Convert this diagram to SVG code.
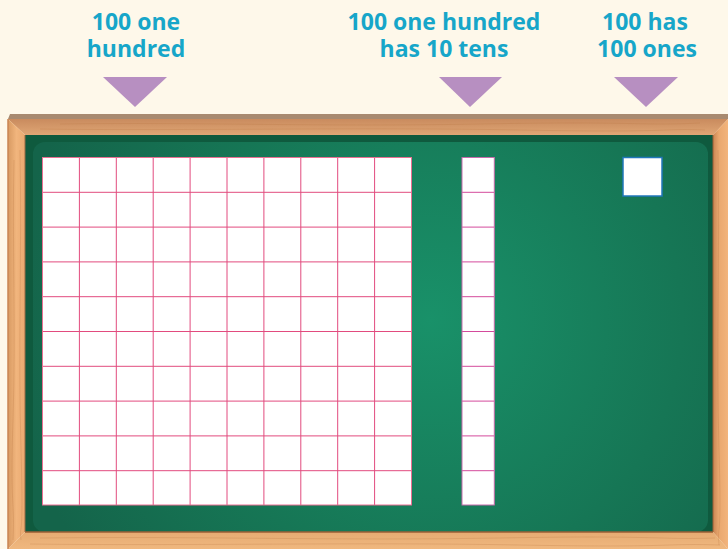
<svg xmlns="http://www.w3.org/2000/svg" width="728" height="549" viewBox="0 0 728 549">
<style>
.lbl{font-family:"Open Sans",Lato,"Liberation Sans",sans-serif;font-weight:700;font-size:23px;fill:#17a6c9;text-anchor:middle}
.ptr{fill:#b78fc1}
.g100{stroke:#e24b7e;stroke-width:1;fill:none}
.g10{stroke:#d44a9c;stroke-width:1;fill:none}
.cell{fill:#ffffff}
.grain{stroke:#b8743f;stroke-opacity:0.25;stroke-width:1;fill:none}
</style>
<defs>
<radialGradient id="board" cx="430" cy="320" r="420" gradientUnits="userSpaceOnUse">
<stop offset="0" stop-color="#199169"/>
<stop offset="0.6" stop-color="#167655"/>
<stop offset="1" stop-color="#14644a"/>
</radialGradient>
<linearGradient id="topWood" x1="0" y1="119" x2="0" y2="135" gradientUnits="userSpaceOnUse">
<stop offset="0" stop-color="#c98b5e"/>
<stop offset="1" stop-color="#e0a675"/>
</linearGradient>
<linearGradient id="leftWood" x1="8" y1="0" x2="25" y2="0" gradientUnits="userSpaceOnUse">
<stop offset="0" stop-color="#d89a62"/>
<stop offset="0.5" stop-color="#f1b57d"/>
<stop offset="1" stop-color="#eaa970"/>
</linearGradient>
<linearGradient id="rightWood" x1="713" y1="0" x2="728" y2="0" gradientUnits="userSpaceOnUse">
<stop offset="0" stop-color="#c98552"/>
<stop offset="0.4" stop-color="#eaa86f"/>
<stop offset="1" stop-color="#f2b47c"/>
</linearGradient>
<linearGradient id="botWood" x1="0" y1="532" x2="0" y2="549" gradientUnits="userSpaceOnUse">
<stop offset="0" stop-color="#e6ab72"/>
<stop offset="1" stop-color="#f0b87f"/>
</linearGradient>
</defs>
<rect x="0" y="0" width="728" height="549" fill="#fef8ea"/>

<g id="chalkboard">
<rect x="25" y="135" width="688" height="397" fill="#0f5a3e"/>
<rect x="33" y="142" width="675" height="390" rx="12" fill="url(#board)"/>
<polygon points="10,114 728,114 728,119 8,119" fill="#a88a70"/>
<polygon points="8,119 728,119 713,135 25,135" fill="url(#topWood)"/>
<polygon points="8,119 25,135 25,532 8,549" fill="url(#leftWood)"/>
<polygon points="728,119 713,135 713,532 728,549" fill="url(#rightWood)"/>
<polygon points="25,532 713,532 728,549 8,549" fill="url(#botWood)"/>
<line x1="25" y1="532" x2="713" y2="532" stroke="#9a5f36" stroke-width="1.5"/>
<line x1="25" y1="135" x2="25" y2="532" stroke="#9a6a45" stroke-width="1"/>
<line x1="713" y1="135" x2="713" y2="532" stroke="#9a5f36" stroke-width="1"/>
<line x1="8" y1="119" x2="8" y2="549" stroke="#c88552" stroke-width="1.5"/>
<path class="grain" d="M60 124 C200 122 320 127 480 124 S640 126 700 123 M40 129 C180 131 360 127 520 130 S660 128 705 130 M14 160 C12 240 16 330 13 420 S15 500 13 540 M20 150 C22 250 18 350 21 450 S19 520 21 540 M718 150 C720 250 716 350 719 450 S717 520 719 545 M40 538 C200 536 340 541 500 538 S660 540 715 538 M30 544 C180 546 360 542 520 545 S660 543 720 545"/>
</g>

<g id="label-hundred">
<text class="lbl" x="136" y="30">100 one</text>
<text class="lbl" x="136" y="57">hundred</text>
</g>
<g id="label-tens">
<text class="lbl" x="444" y="30">100 one hundred</text>
<text class="lbl" x="444" y="57">has 10 tens</text>
</g>
<g id="label-ones">
<text class="lbl" x="645" y="30">100 has</text>
<text class="lbl" x="647" y="57">100 ones</text>
</g>

<g id="connectors">
<polygon class="ptr" points="103,77 167,77 135,107"/>
<polygon class="ptr" points="439,77 502,77 470,107"/>
<polygon class="ptr" points="614,77 678,77 646,107"/>
</g>

<g id="hundred-grid">
<rect class="cell" x="42.5" y="157.5" width="369" height="347.5"/>
<path class="g100" d="M79.4 157.5V505M116.3 157.5V505M153.2 157.5V505M190.1 157.5V505M227 157.5V505M263.9 157.5V505M300.8 157.5V505M337.7 157.5V505M374.6 157.5V505M42.5 192.3H411.5M42.5 227.1H411.5M42.5 261.9H411.5M42.5 296.7H411.5M42.5 331.5H411.5M42.5 366.3H411.5M42.5 401.1H411.5M42.5 435.9H411.5M42.5 470.7H411.5"/>
<rect x="42.5" y="157.5" width="369" height="347.5" fill="none" stroke="#ea6f92" stroke-width="1"/>
</g>

<g id="ten-strip">
<rect class="cell" x="462" y="157.5" width="32.3" height="347.5"/>
<path class="g10" d="M462 192.3H494.3M462 227.1H494.3M462 261.9H494.3M462 296.7H494.3M462 331.5H494.3M462 366.3H494.3M462 401.1H494.3M462 435.9H494.3M462 470.7H494.3"/>
<rect x="462" y="157.5" width="32.3" height="347.5" fill="none" stroke="#c76aab" stroke-width="1"/>
</g>

<g id="one-unit">
<rect x="623" y="157.5" width="39" height="38.5" fill="#ffffff" stroke="#2177bb" stroke-width="1.5"/>
</g>
</svg>
